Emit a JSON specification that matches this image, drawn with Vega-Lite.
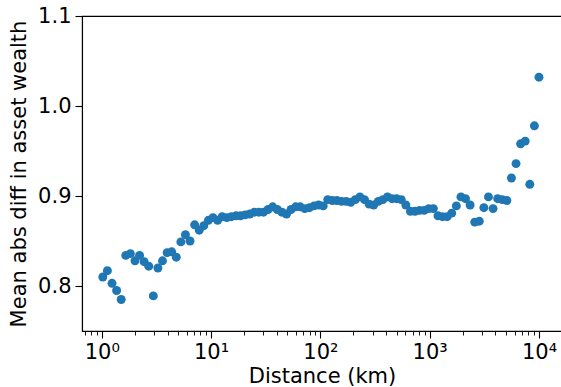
{
  "$schema": "https://vega.github.io/schema/vega-lite/v6.json",
  "width": 480,
  "height": 315,
  "autosize": "none",
  "padding": {"left": 82, "top": 16, "right": 0, "bottom": 56},
  "background": "white",
  "config": {
    "view": {"stroke": "#000000", "strokeWidth": 1.1},
    "font": "DejaVu Sans",
    "axis": {
      "domain": true,
      "domainColor": "#000000",
      "domainWidth": 1.1,
      "grid": false,
      "tickColor": "#000000",
      "labelColor": "#000000",
      "titleColor": "#000000",
      "labelFont": "DejaVu Sans",
      "titleFont": "DejaVu Sans",
      "labelFontSize": 21,
      "titleFontSize": 21,
      "titleFontWeight": "normal"
    }
  },
  "data": {
    "values": [
      {"distance": 1.023, "diff": 0.810},
      {"distance": 1.127, "diff": 0.817},
      {"distance": 1.242, "diff": 0.803},
      {"distance": 1.368, "diff": 0.795},
      {"distance": 1.507, "diff": 0.785},
      {"distance": 1.660, "diff": 0.834},
      {"distance": 1.828, "diff": 0.836},
      {"distance": 2.014, "diff": 0.828},
      {"distance": 2.218, "diff": 0.834},
      {"distance": 2.443, "diff": 0.827},
      {"distance": 2.692, "diff": 0.822},
      {"distance": 2.965, "diff": 0.789},
      {"distance": 3.266, "diff": 0.820},
      {"distance": 3.597, "diff": 0.828},
      {"distance": 3.963, "diff": 0.837},
      {"distance": 4.365, "diff": 0.838},
      {"distance": 4.808, "diff": 0.832},
      {"distance": 5.297, "diff": 0.849},
      {"distance": 5.834, "diff": 0.857},
      {"distance": 6.427, "diff": 0.850},
      {"distance": 7.079, "diff": 0.868},
      {"distance": 7.798, "diff": 0.862},
      {"distance": 8.590, "diff": 0.867},
      {"distance": 9.462, "diff": 0.873},
      {"distance": 10.42, "diff": 0.876},
      {"distance": 11.48, "diff": 0.873},
      {"distance": 12.65, "diff": 0.877},
      {"distance": 13.93, "diff": 0.876},
      {"distance": 15.35, "diff": 0.877},
      {"distance": 16.90, "diff": 0.878},
      {"distance": 18.62, "diff": 0.878},
      {"distance": 20.51, "diff": 0.879},
      {"distance": 22.59, "diff": 0.880},
      {"distance": 24.89, "diff": 0.882},
      {"distance": 27.42, "diff": 0.882},
      {"distance": 30.20, "diff": 0.882},
      {"distance": 33.27, "diff": 0.885},
      {"distance": 36.64, "diff": 0.888},
      {"distance": 40.36, "diff": 0.885},
      {"distance": 44.46, "diff": 0.882},
      {"distance": 48.98, "diff": 0.880},
      {"distance": 53.95, "diff": 0.885},
      {"distance": 59.43, "diff": 0.888},
      {"distance": 65.46, "diff": 0.888},
      {"distance": 72.11, "diff": 0.886},
      {"distance": 79.43, "diff": 0.887},
      {"distance": 87.50, "diff": 0.889},
      {"distance": 96.38, "diff": 0.890},
      {"distance": 106.2, "diff": 0.889},
      {"distance": 116.9, "diff": 0.896},
      {"distance": 128.8, "diff": 0.895},
      {"distance": 141.9, "diff": 0.895},
      {"distance": 156.3, "diff": 0.894},
      {"distance": 172.2, "diff": 0.894},
      {"distance": 189.7, "diff": 0.893},
      {"distance": 208.9, "diff": 0.896},
      {"distance": 230.1, "diff": 0.899},
      {"distance": 253.5, "diff": 0.896},
      {"distance": 279.3, "diff": 0.891},
      {"distance": 307.6, "diff": 0.890},
      {"distance": 338.8, "diff": 0.894},
      {"distance": 373.3, "diff": 0.896},
      {"distance": 411.1, "diff": 0.899},
      {"distance": 452.9, "diff": 0.897},
      {"distance": 498.9, "diff": 0.897},
      {"distance": 549.5, "diff": 0.896},
      {"distance": 605.3, "diff": 0.890},
      {"distance": 666.8, "diff": 0.883},
      {"distance": 734.5, "diff": 0.883},
      {"distance": 809.1, "diff": 0.884},
      {"distance": 891.3, "diff": 0.884},
      {"distance": 981.8, "diff": 0.886},
      {"distance": 1081, "diff": 0.886},
      {"distance": 1191, "diff": 0.878},
      {"distance": 1312, "diff": 0.877},
      {"distance": 1445, "diff": 0.877},
      {"distance": 1592, "diff": 0.881},
      {"distance": 1754, "diff": 0.889},
      {"distance": 1932, "diff": 0.899},
      {"distance": 2128, "diff": 0.897},
      {"distance": 2344, "diff": 0.890},
      {"distance": 2582, "diff": 0.871},
      {"distance": 2844, "diff": 0.872},
      {"distance": 3133, "diff": 0.887},
      {"distance": 3451, "diff": 0.899},
      {"distance": 3802, "diff": 0.886},
      {"distance": 4188, "diff": 0.897},
      {"distance": 4613, "diff": 0.896},
      {"distance": 5082, "diff": 0.895},
      {"distance": 5598, "diff": 0.920},
      {"distance": 6166, "diff": 0.936},
      {"distance": 6792, "diff": 0.958},
      {"distance": 7482, "diff": 0.961},
      {"distance": 8241, "diff": 0.913},
      {"distance": 9078, "diff": 0.978},
      {"distance": 10000, "diff": 1.032}
    ]
  },
  "mark": {"type": "point", "shape": "circle", "filled": true, "opacity": 1, "size": 80, "color": "#1f77b4"},
  "encoding": {
    "x": {
      "field": "distance",
      "type": "quantitative",
      "title": "Distance (km)",
      "scale": {"type": "log", "domain": [0.66, 16240], "nice": false},
      "axis": {
        "values": [0.7, 0.8, 0.9, 1, 2, 3, 4, 5, 6, 7, 8, 9, 10, 20, 30, 40, 50, 60, 70, 80, 90, 100, 200, 300, 400, 500, 600, 700, 800, 900, 1000, 2000, 3000, 4000, 5000, 6000, 7000, 8000, 9000, 10000],
        "labelExpr": "datum.value == 1 ? '10⁰' : datum.value == 10 ? '10¹' : datum.value == 100 ? '10²' : datum.value == 1000 ? '10³' : datum.value == 10000 ? '10⁴' : ''",
        "tickSize": {"condition": {"test": "indexof([1, 10, 100, 1000, 10000], datum.value) >= 0", "value": 7}, "value": 4},
        "tickWidth": {"condition": {"test": "indexof([1, 10, 100, 1000, 10000], datum.value) >= 0", "value": 1.1}, "value": 0.9},
        "labelPadding": 3,
        "labelFlush": false,
        "labelOverlap": false,
        "titlePadding": 3
      }
    },
    "y": {
      "field": "diff",
      "type": "quantitative",
      "title": "Mean abs diff in asset wealth",
      "scale": {"domain": [0.75, 1.1], "nice": false, "zero": false},
      "axis": {
        "values": [0.8, 0.9, 1.0, 1.1],
        "format": ".1f",
        "tickSize": 7,
        "tickWidth": 1.1,
        "labelPadding": 4,
        "titlePadding": 8
      }
    }
  }
}
